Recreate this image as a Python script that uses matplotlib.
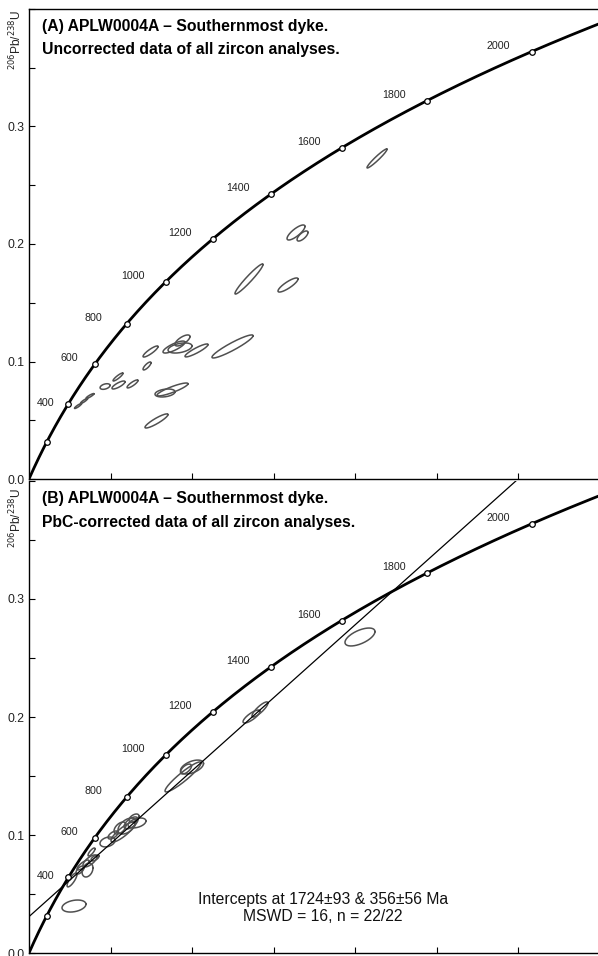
import numpy as np
import matplotlib.pyplot as plt

plt.rcParams['font.family'] = ['Liberation Sans', 'DejaVu Sans']

# decay constants (1/yr)
L238 = 1.55125e-10
L235 = 9.8485e-10

ages = [200, 400, 600, 800, 1000, 1200, 1400, 1600, 1800, 2000]
age_labels = ['', '400', '600', '800', '1000', '1200', '1400', '1600', '1800', '2000']
intercepts = [356, 1724]  # Ma

# error ellipses: centre x (207/235), centre y (206/238), half-extent x, half-extent y, rho
a_x = [1.491, 1.448, 1.779, 1.883, 1.853, 2.055, 2.497, 1.092, 1.098, 1.270, 0.933,
       0.601, 0.675, 0.748, 1.761, 1.669, 1.564, 2.699, 3.178, 4.270, 3.276, 3.356]
a_y = [0.1085, 0.0962, 0.1123, 0.1179, 0.1115, 0.1094, 0.1128, 0.0868, 0.0800, 0.0809, 0.0787,
       0.0621, 0.0664, 0.0706, 0.0762, 0.0732, 0.0494, 0.1702, 0.1651, 0.2728, 0.2098, 0.2068]
a_sx = [0.092, 0.049, 0.135, 0.092, 0.147, 0.141, 0.252, 0.061, 0.080, 0.067, 0.061,
        0.043, 0.043, 0.049, 0.190, 0.123, 0.141, 0.172, 0.123, 0.123, 0.110, 0.067]
a_sy = [0.0047, 0.0034, 0.0051, 0.0047, 0.0043, 0.0055, 0.0098, 0.0034, 0.0034, 0.0034, 0.0024,
        0.0021, 0.0021, 0.0021, 0.0055, 0.0034, 0.0060, 0.0128, 0.0060, 0.0081, 0.0064, 0.0043]
a_rho = [0.88, 0.8, 0.8, 0.7, 0.4, 0.9, 0.93, 0.9, 0.8, 0.85, 0.4,
         0.9, 0.9, 0.9, 0.88, 0.3, 0.9, 0.96, 0.85, 0.96, 0.8, 0.7]

b_x = [0.552, 0.528, 0.718, 0.748, 0.663, 0.767, 0.626, 0.963, 1.153, 1.202, 1.252,
       1.325, 1.117, 1.288, 1.890, 2.000, 1.926, 2.730, 2.834, 4.061, 0.810, 1.031]
b_y = [0.0398, 0.0619, 0.0703, 0.0780, 0.0746, 0.0856, 0.0703, 0.0941, 0.1025, 0.1076, 0.1102,
       0.1102, 0.1059, 0.1144, 0.1492, 0.1576, 0.1559, 0.2004, 0.2064, 0.2678, 0.0805, 0.1000]
b_sx = [0.147, 0.061, 0.067, 0.086, 0.074, 0.043, 0.049, 0.092, 0.147, 0.110, 0.086,
        0.110, 0.074, 0.061, 0.221, 0.141, 0.067, 0.104, 0.098, 0.184, 0.049, 0.061]
b_sy = [0.0051, 0.0059, 0.0059, 0.0051, 0.0042, 0.0034, 0.0034, 0.0042, 0.0085, 0.0068, 0.0051,
        0.0042, 0.0051, 0.0034, 0.0127, 0.0059, 0.0042, 0.0055, 0.0064, 0.0076, 0.0025, 0.0034]
b_rho = [0.3, 0.8, 0.3, 0.7, 0.8, 0.8, 0.6, 0.3, 0.85, 0.5, 0.6,
         0.4, 0.5, 0.5, 0.93, 0.5, 0.6, 0.8, 0.85, 0.6, 0.6, 0.6]


def conc(t_ma):
    t = np.asarray(t_ma) * 1e6
    return np.exp(L235 * t) - 1, np.exp(L238 * t) - 1


def ellipse(ax, cx, cy, sx, sy, rho):
    t = np.linspace(0, 2 * np.pi, 200)
    ex = cx + sx * np.cos(t)
    ey = cy + sy * (rho * np.cos(t) + np.sqrt(1 - rho ** 2) * np.sin(t))
    ax.plot(ex, ey, color='#505050', lw=1.1, zorder=2)


def panel(ax, title1, title2, xs, ys, sxs, sys_, rhos, ylab_top):
    tt = np.linspace(0, 2200, 600)
    cx, cy = conc(tt)
    ax.plot(cx, cy, color='black', lw=2.0, zorder=3)
    mx, my = conc(ages)
    ax.plot(mx, my, 'o', ms=4, mfc='white', mec='black', mew=0.9, zorder=4)
    for lab, x0, y0 in zip(age_labels, mx, my):
        if not lab:
            continue
        off = (-33, 6)
        if lab == '400':
            off = (-23, 1)
        elif lab == '600':
            off = (-25, 6)
        ax.annotate(lab, (x0, y0), xytext=off, textcoords='offset pixels',
                    ha='center', va='center', fontsize=7.7, color='#222222')
    for cxi, cyi, sx, sy, r in zip(xs, ys, sxs, sys_, rhos):
        ellipse(ax, cxi, cyi, sx, sy, r)

    ax.set_xlim(0, 7)
    ax.set_ylim(0, 0.4)
    ax.set_xticks(range(1, 7))
    ax.set_xticklabels([])
    ax.set_yticks(np.arange(0, 0.401, 0.05))
    ax.set_yticklabels(['0.0', '', '0.1', '', '0.2', '', '0.3', '', ''])
    ax.tick_params(direction='in', length=4, width=0.8, labelsize=8.8, colors='black',
                   labelcolor='#222222', pad=3.5)
    ax.spines['right'].set_visible(False)
    for s in ['left', 'bottom', 'top']:
        ax.spines[s].set_linewidth(1.0)
    ax.text(-0.0228, ylab_top, r'$^{206}$Pb/$^{238}$U', transform=ax.transAxes, rotation=90,
            ha='center', va='top', fontsize=8.6, color='#222222')
    ax.text(0.023, 0.962, title1, transform=ax.transAxes, ha='left', va='center',
            fontsize=11.3, fontweight='bold')
    ax.text(0.023, 0.913, title2, transform=ax.transAxes, ha='left', va='center',
            fontsize=11.3, fontweight='bold')


fig = plt.figure(figsize=(5.98, 9.56), dpi=100)
axA = fig.add_axes([29 / 598, 477 / 956, 570.5 / 598, 470 / 956])
axB = fig.add_axes([29 / 598, 3 / 956, 570.5 / 598, 472 / 956])

panel(axA, '(A) APLW0004A \u2013 Southernmost dyke.',
      'Uncorrected data of all zircon analyses.', a_x, a_y, a_sx, a_sy, a_rho, 0.998)
panel(axB, '(B) APLW0004A \u2013 Southernmost dyke.',
      'PbC-corrected data of all zircon analyses.', b_x, b_y, b_sx, b_sy, b_rho, 0.985)
axB.spines['top'].set_visible(False)

# discordia through the two intercepts
ix, iy = conc(intercepts)
slope = (iy[1] - iy[0]) / (ix[1] - ix[0])
dx = np.array([0, 7])
axB.plot(dx, iy[0] + slope * (dx - ix[0]), color='black', lw=0.9, zorder=2)

axB.text(3.61, 0.038, 'Intercepts at 1724\u00b193 & 356\u00b156 Ma\nMSWD = 16, n = 22/22',
         ha='center', va='center', fontsize=11.3, linespacing=1.2, color='#111111')

fig.savefig('out.png', dpi=100)
